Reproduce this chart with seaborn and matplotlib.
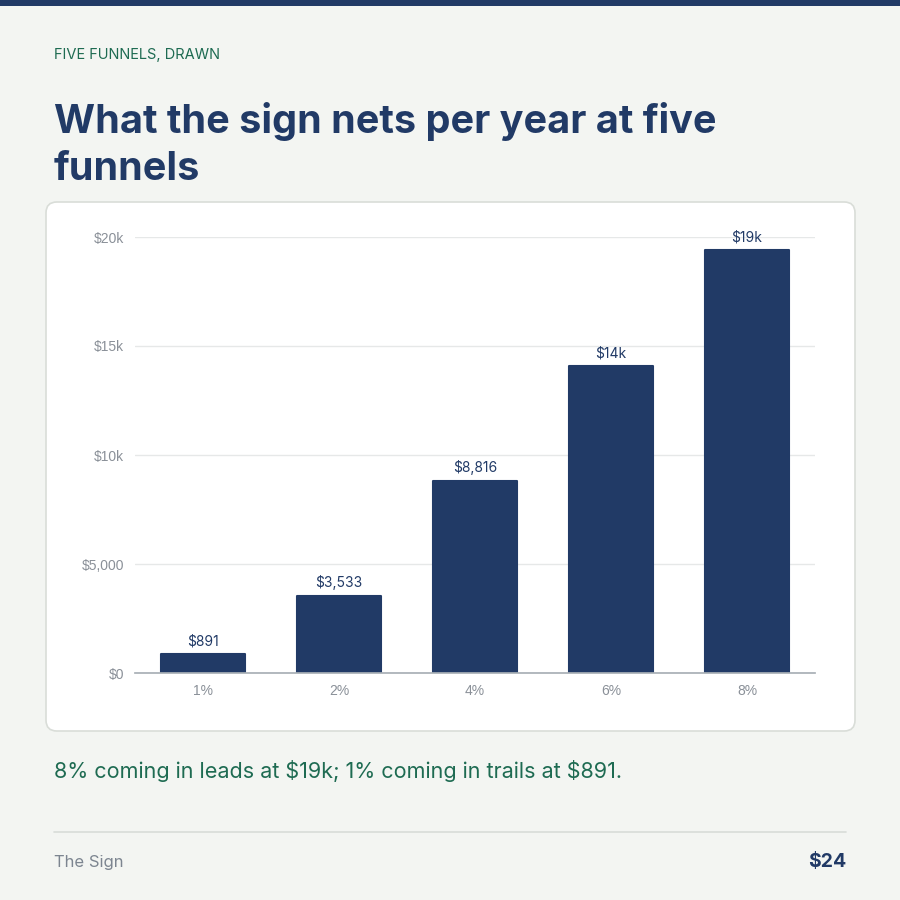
import matplotlib
matplotlib.use("Agg")
import matplotlib.pyplot as plt
import seaborn as sns
import pandas as pd
from matplotlib.patches import FancyBboxPatch, Rectangle
from matplotlib.lines import Line2D

# data
rates = ["1%", "2%", "4%", "6%", "8%"]
net_per_year = [891, 3533, 8816, 14100, 19400]
y_ticks = [0, 5000, 10000, 15000, 20000]
y_tick_labels = ["$0", "$5,000", "$10k", "$15k", "$20k"]

NAVY = "#213a66"
GREEN = "#1e6b52"
BG = "#f3f5f2"
GREY = "#8a9098"

sns.set_theme(style="white")
plt.rcParams["font.family"] = ["Inter", "DejaVu Sans"]
plt.rcParams["text.parse_math"] = False

fig = plt.figure(figsize=(9, 9), dpi=100)
fig.patch.set_facecolor(BG)

# top band
fig.patches.append(Rectangle((0, 1 - 6 / 900), 1, 6 / 900, transform=fig.transFigure,
                             facecolor=NAVY, edgecolor="none"))

# white card behind the chart
fig.patches.append(FancyBboxPatch((46 / 900, 1 - 731 / 900), 809 / 900, 529 / 900,
                                  boxstyle="round,pad=0,rounding_size=0.012",
                                  transform=fig.transFigure, facecolor="white",
                                  edgecolor="#d9ddd8", linewidth=1.2, zorder=-1))

fig.text(54 / 900, 1 - 55 / 900, "FIVE FUNNELS, DRAWN", color=GREEN, fontsize=10.5,
         va="center", ha="left")
fig.text(54 / 900, 1 - 145 / 900, "What the sign nets per year at five\nfunnels",
         color=NAVY, fontsize=28.5, fontweight="bold", va="center", ha="left",
         linespacing=1.32)

ax = fig.add_axes([135 / 900, 1 - 673 / 900, 680 / 900, 436 / 900])
ax.set_zorder(1)
df = pd.DataFrame({"rate": rates, "net": net_per_year})
sns.barplot(data=df, x="rate", y="net", color=NAVY, width=0.62, saturation=1, ax=ax)
for p in ax.patches:
    p.set_edgecolor(NAVY)
    p.set_linewidth(1.5)
    p.set_joinstyle("round")

def fmt(v):
    return f"${v:,}" if v < 10000 else f"${round(v / 1000)}k"

for i, v in enumerate(net_per_year):
    ax.annotate(fmt(v), (i, v), xytext=(0, 4), textcoords="offset points",
                ha="center", va="bottom", color=NAVY, fontsize=10, clip_on=False)

ax.set_ylim(0, 20000)
ax.set_xlim(-0.5, 4.5)
ax.set_yticks(y_ticks)
ax.set_yticklabels(y_tick_labels)
ax.set_xlabel("")
ax.set_ylabel("")
ax.set_facecolor("none")
ax.grid(axis="y", color="#e6e8e8", linewidth=1)
ax.set_axisbelow(True)
for s in ["top", "right", "left"]:
    ax.spines[s].set_visible(False)
ax.spines["bottom"].set_color("#a9b0b6")
ax.tick_params(axis="both", length=0, colors=GREY, labelsize=10)
ax.tick_params(axis="y", pad=8)
ax.tick_params(axis="x", pad=8)
for lab in ax.get_xticklabels() + ax.get_yticklabels():
    lab.set_fontfamily(["Liberation Sans", "DejaVu Sans"])

fig.text(54 / 900, 1 - 771 / 900, "8% coming in leads at $19k; 1% coming in trails at $891.",
         color=GREEN, fontsize=15.5, va="center", ha="left")

fig.lines.append(Line2D([54 / 900, 846 / 900], [1 - 832 / 900] * 2, transform=fig.transFigure,
                        color="#d8dcd8", linewidth=1.2))
fig.text(54 / 900, 1 - 862 / 900, "The Sign", color="#7c8590", fontsize=12,
         va="center", ha="left")
fig.text(846 / 900, 1 - 862 / 900, "$24", color=NAVY, fontsize=14, fontweight="bold",
         va="center", ha="right")

fig.savefig("out.png", dpi=100, facecolor=BG)
